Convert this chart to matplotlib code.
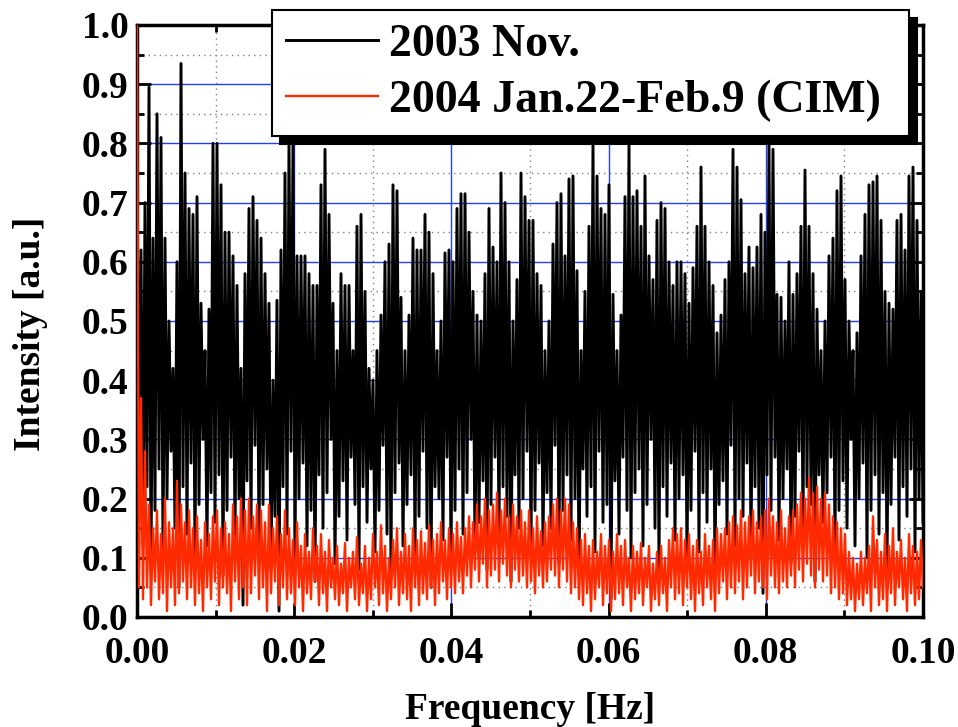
import numpy as np
import matplotlib
matplotlib.use('Agg')
import matplotlib.pyplot as plt
from matplotlib.ticker import MultipleLocator, FormatStrFormatter

# spectrum values (peak / trough per ~0.0005 Hz)
nov_peak = [0.73, 0.62, 0.70, 0.895, 0.64, 0.85, 0.81, 0.64, 0.50, 0.42, 0.60, 0.935, 0.75, 0.69, 0.68, 0.71, 0.53, 0.45, 0.52, 0.80,
            0.80, 0.73, 0.65, 0.65, 0.61, 0.56, 0.42, 0.58, 0.69, 0.71, 0.67, 0.64, 0.58, 0.53, 0.40, 0.535, 0.62, 0.75, 0.80, 0.80,
            0.61, 0.61, 0.61, 0.58, 0.56, 0.56, 0.73, 0.79, 0.68, 0.53, 0.45, 0.58, 0.56, 0.56, 0.45, 0.66, 0.68, 0.55, 0.42, 0.40,
            0.45, 0.51, 0.60, 0.63, 0.73, 0.72, 0.54, 0.45, 0.51, 0.64, 0.62, 0.62, 0.68, 0.65, 0.58, 0.45, 0.50, 0.615, 0.62, 0.60,
            0.69, 0.715, 0.715, 0.65, 0.55, 0.51, 0.50, 0.58, 0.69, 0.625, 0.60, 0.75, 0.70, 0.60, 0.50, 0.57, 0.75, 0.71, 0.67, 0.67,
            0.58, 0.56, 0.45, 0.50, 0.63, 0.70, 0.715, 0.61, 0.74, 0.745, 0.585, 0.45, 0.55, 0.66, 0.80, 0.745, 0.69, 0.68, 0.73, 0.545,
            0.45, 0.51, 0.71, 0.80, 0.71, 0.72, 0.66, 0.745, 0.61, 0.57, 0.67, 0.70, 0.69, 0.60, 0.56, 0.60, 0.60, 0.58, 0.53, 0.59,
            0.66, 0.76, 0.66, 0.60, 0.56, 0.48, 0.51, 0.57, 0.60, 0.79, 0.76, 0.705, 0.58, 0.625, 0.59, 0.625, 0.68, 0.65, 0.80, 0.79,
            0.545, 0.54, 0.50, 0.60, 0.545, 0.58, 0.66, 0.755, 0.66, 0.58, 0.52, 0.45, 0.50, 0.61, 0.64, 0.72, 0.745, 0.57, 0.50, 0.45,
            0.48, 0.61, 0.68, 0.73, 0.735, 0.745, 0.67, 0.55, 0.53, 0.52, 0.67, 0.68, 0.62, 0.745, 0.76, 0.67, 0.55]
nov_low = [0.30, 0.12, 0.22, 0.08, 0.18, 0.25, 0.10, 0.20, 0.28, 0.15, 0.05, 0.22, 0.14, 0.26, 0.09, 0.19, 0.30, 0.12, 0.21, 0.16,
           0.24, 0.07, 0.18, 0.27, 0.13, 0.20, 0.02, 0.23, 0.15, 0.29, 0.11, 0.19, 0.25, 0.08, 0.17, 0.01, 0.22, 0.14, 0.28, 0.10,
           0.20, 0.26, 0.12, 0.18, 0.06, 0.24, 0.15, 0.21, 0.30, 0.09, 0.17, 0.23, 0.13, 0.27, 0.19, 0.08, 0.22, 0.16, 0.25, 0.11,
           0.18, 0.29, 0.14, 0.07, 0.21, 0.26, 0.12, 0.19, 0.24, 0.10, 0.17, 0.28, 0.15, 0.05, 0.22, 0.20, 0.13, 0.27, 0.09, 0.18,
           0.25, 0.14, 0.21, 0.30, 0.11, 0.16, 0.23, 0.08, 0.19, 0.27, 0.13, 0.22, 0.17, 0.06, 0.24, 0.15, 0.20, 0.28, 0.10, 0.18,
           0.26, 0.12, 0.21, 0.15, 0.29, 0.09, 0.18, 0.24, 0.13, 0.20, 0.07, 0.25, 0.17, 0.22, 0.11, 0.28, 0.16, 0.19, 0.03, 0.23,
           0.14, 0.27, 0.18, 0.10, 0.21, 0.25, 0.12, 0.19, 0.30, 0.15, 0.08, 0.22, 0.17, 0.26, 0.13, 0.20, 0.24, 0.09, 0.18, 0.28,
           0.11, 0.21, 0.16, 0.25, 0.07, 0.19, 0.23, 0.14, 0.29, 0.12, 0.20, 0.17, 0.26, 0.10, 0.22, 0.15, 0.04, 0.24, 0.18, 0.27,
           0.13, 0.20, 0.25, 0.09, 0.17, 0.28, 0.14, 0.22, 0.19, 0.06, 0.24, 0.16, 0.21, 0.27, 0.11, 0.18, 0.23, 0.15, 0.30, 0.12,
           0.20, 0.26, 0.10, 0.18, 0.24, 0.14, 0.21, 0.08, 0.19, 0.27, 0.13, 0.22, 0.17, 0.25, 0.11, 0.20, 0.16]

cim_peak = [1.0, 0.37, 0.28, 0.19, 0.15, 0.18, 0.14, 0.20, 0.16, 0.15, 0.23, 0.19, 0.16, 0.18, 0.15, 0.17, 0.13, 0.16, 0.14, 0.17,
            0.18, 0.15, 0.16, 0.14, 0.19, 0.17, 0.20, 0.18, 0.20, 0.17, 0.19, 0.18, 0.16, 0.19, 0.15, 0.17, 0.14, 0.18, 0.15, 0.13,
            0.16, 0.12, 0.14, 0.11, 0.15, 0.12, 0.14, 0.11, 0.13, 0.10, 0.12, 0.09, 0.125, 0.10, 0.11, 0.135, 0.09, 0.12, 0.10, 0.14,
            0.11, 0.155, 0.12, 0.10, 0.13, 0.15, 0.11, 0.14, 0.12, 0.15, 0.13, 0.145, 0.125, 0.155, 0.13, 0.14, 0.16, 0.13, 0.15, 0.14,
            0.16, 0.135, 0.15, 0.17, 0.16, 0.19, 0.17, 0.20, 0.18, 0.19, 0.21, 0.18, 0.20, 0.17, 0.19, 0.17, 0.18, 0.16, 0.18, 0.15,
            0.17, 0.145, 0.16, 0.17, 0.19, 0.20, 0.18, 0.20, 0.19, 0.16, 0.15, 0.13, 0.14, 0.12, 0.13, 0.11, 0.14, 0.12, 0.13, 0.11,
            0.14, 0.12, 0.13, 0.10, 0.12, 0.11, 0.125, 0.10, 0.12, 0.09, 0.11, 0.12, 0.10, 0.13, 0.15, 0.14, 0.15, 0.13, 0.14, 0.12,
            0.13, 0.11, 0.14, 0.12, 0.13, 0.15, 0.14, 0.15, 0.16, 0.17, 0.155, 0.18, 0.16, 0.17, 0.18, 0.16, 0.17, 0.18, 0.20, 0.17,
            0.16, 0.18, 0.15, 0.17, 0.18, 0.19, 0.21, 0.20, 0.235, 0.21, 0.22, 0.20, 0.21, 0.19, 0.17, 0.16, 0.15, 0.14, 0.11, 0.10,
            0.09, 0.11, 0.10, 0.12, 0.17, 0.13, 0.11, 0.14, 0.12, 0.15, 0.11, 0.13, 0.10, 0.14, 0.12, 0.11, 0.13]
cim_low = [0.05, 0.03, 0.05, 0.02, 0.06, 0.03, 0.04, 0.01, 0.05, 0.02, 0.04, 0.06, 0.03, 0.05, 0.02, 0.04, 0.01, 0.05, 0.03, 0.06,
           0.02, 0.05, 0.04, 0.01, 0.06, 0.03, 0.05, 0.02, 0.04, 0.07, 0.03, 0.05, 0.01, 0.04, 0.06, 0.02, 0.05, 0.03, 0.04, 0.02,
           0.05, 0.01, 0.04, 0.03, 0.06, 0.02, 0.04, 0.01, 0.05, 0.03, 0.02, 0.04, 0.01, 0.05, 0.03, 0.02, 0.04, 0.01, 0.03, 0.05,
           0.02, 0.04, 0.01, 0.03, 0.05, 0.02, 0.04, 0.03, 0.01, 0.05, 0.02, 0.04, 0.03, 0.05, 0.02, 0.04, 0.06, 0.03, 0.05, 0.04,
           0.06, 0.04, 0.07, 0.05, 0.08, 0.06, 0.09, 0.05, 0.07, 0.08, 0.06, 0.09, 0.07, 0.05, 0.08, 0.06, 0.07, 0.05, 0.06, 0.04,
           0.07, 0.05, 0.06, 0.08, 0.07, 0.05, 0.08, 0.06, 0.04, 0.05, 0.03, 0.02, 0.04, 0.01, 0.03, 0.05, 0.02, 0.04, 0.01, 0.03,
           0.04, 0.02, 0.05, 0.01, 0.03, 0.04, 0.02, 0.05, 0.01, 0.03, 0.02, 0.04, 0.01, 0.05, 0.03, 0.04, 0.02, 0.05, 0.03, 0.01,
           0.04, 0.02, 0.05, 0.03, 0.01, 0.04, 0.06, 0.03, 0.05, 0.04, 0.06, 0.03, 0.05, 0.07, 0.04, 0.06, 0.05, 0.03, 0.07, 0.05,
           0.04, 0.06, 0.05, 0.07, 0.05, 0.08, 0.06, 0.09, 0.07, 0.05, 0.08, 0.06, 0.07, 0.04, 0.05, 0.03, 0.04, 0.02, 0.03, 0.01,
           0.03, 0.02, 0.04, 0.01, 0.05, 0.02, 0.03, 0.01, 0.04, 0.02, 0.05, 0.03, 0.01, 0.04, 0.02, 0.03, 0.05]

labels = ['2003 Nov.', '2004 Jan.22-Feb.9 (CIM)']

nov = np.column_stack([nov_peak, nov_low]).ravel()
cim = np.column_stack([cim_peak, cim_low]).ravel()
freq = np.linspace(0, 0.1, len(nov))

plt.rcParams['font.family'] = 'Liberation Serif'
plt.rcParams['font.weight'] = 'bold'

fig = plt.figure(figsize=(9.58, 7.27), dpi=100)
ax = fig.add_axes([137/958, 110/727, 786/958, 592/727])

ax.plot(freq, nov, color='black', lw=2.1, label=labels[0], zorder=3)
ax.plot(freq, cim, color='#ff2a00', lw=1.7, label=labels[1], zorder=4)

ax.set_xlim(0, 0.1)
ax.set_ylim(0, 1.0)
ax.xaxis.set_major_locator(MultipleLocator(0.02))
ax.xaxis.set_minor_locator(MultipleLocator(0.01))
ax.yaxis.set_major_locator(MultipleLocator(0.1))
ax.yaxis.set_minor_locator(MultipleLocator(0.05))
ax.xaxis.set_major_formatter(FormatStrFormatter('%.2f'))
ax.yaxis.set_major_formatter(FormatStrFormatter('%.1f'))

ax.grid(True, which='major', color='#2040ff', lw=1.0, zorder=1)
ax.grid(True, which='minor', color='gray', lw=1.0, ls=(0, (1, 3)), zorder=1)
ax.set_axisbelow(True)

ax.tick_params(which='both', direction='in', top=True, right=True, labelsize=27, width=2)
ax.tick_params(which='major', length=10)
ax.tick_params(which='minor', length=5)
ax.tick_params(axis='x', pad=14)
ax.tick_params(axis='y', pad=6)
for s in ax.spines.values():
    s.set_linewidth(2.5)

ax.set_xlabel('Frequency [Hz]', fontsize=27, fontweight='bold', labelpad=15)
ax.set_ylabel('Intensity [a.u.]', fontsize=27, fontweight='bold')
ax.yaxis.set_label_coords(-0.113, 0.478)

leg = ax.legend(loc='upper left', bbox_to_anchor=(272/958, 0, (909 - 272)/958, 1 - 10/727),
                bbox_transform=fig.transFigure, mode='expand',
                borderaxespad=0, fancybox=False, framealpha=1, edgecolor='black', fontsize=33,
                handlelength=2.0, handletextpad=0.25, labelspacing=0.29, borderpad=0.31,
                shadow={'ox': 6, 'oy': -6, 'color': 'black', 'alpha': 1})
leg.get_frame().set_linewidth(1.5)
leg.set_zorder(10)

fig.savefig('out.png', dpi=100)
